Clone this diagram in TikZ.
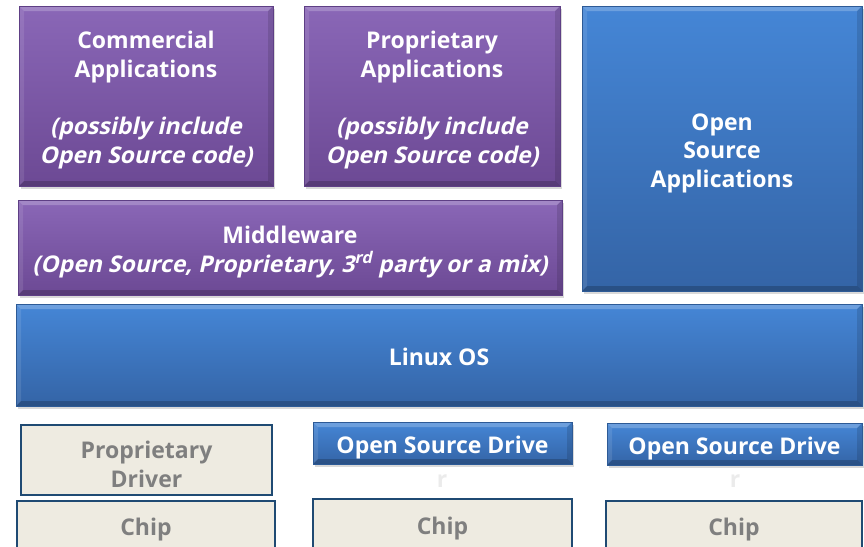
\documentclass[tikz,border=0pt]{standalone}
\usepackage{fontspec}
\setmainfont{Open Sans}
\newfontfamily\slantfont[FakeSlant=0.22]{Open Sans}
\usetikzlibrary{shadows}

\definecolor{purpletop}{HTML}{8A67B7}
\definecolor{purplebot}{HTML}{6C4994}
\definecolor{purpleedge}{HTML}{5E3F85}
\definecolor{bluetop}{HTML}{4586D6}
\definecolor{bluebot}{HTML}{3464A6}
\definecolor{blueedge}{HTML}{2D5A96}
\definecolor{chipfill}{HTML}{EEEBE1}
\definecolor{chipedge}{HTML}{1F4A73}
\definecolor{chiptext}{HTML}{7F7F7F}

% struts: one line boxes, and the first line of a block
\newcommand{\tallstrut}{\rule[-7pt]{0pt}{35pt}}
\newcommand{\firststrut}{\rule{0pt}{26pt}}
\newcommand{\slanted}[1]{{\slantfont\bfseries #1}}

\begin{document}
\begin{tikzpicture}[x=1pt, y=-1pt,
  every node/.style={font=\bfseries\fontsize{23}{28.7}\selectfont, align=center, inner sep=0pt},
  bevel/.style={path picture={
    \fill[white, opacity=.22] (path picture bounding box.north west) -- (path picture bounding box.north east)
      -- ([xshift=-5pt, yshift=-5pt]path picture bounding box.north east)
      -- ([xshift=5pt, yshift=-5pt]path picture bounding box.north west) -- cycle;
    \fill[white, opacity=.10] (path picture bounding box.north west) -- ([xshift=5pt, yshift=-5pt]path picture bounding box.north west)
      -- ([xshift=5pt, yshift=5pt]path picture bounding box.south west) -- (path picture bounding box.south west) -- cycle;
    \fill[black, opacity=.12] (path picture bounding box.north east) -- ([xshift=-5pt, yshift=-5pt]path picture bounding box.north east)
      -- ([xshift=-5pt, yshift=5pt]path picture bounding box.south east) -- (path picture bounding box.south east) -- cycle;
    \fill[black, opacity=.20] (path picture bounding box.south west) -- (path picture bounding box.south east)
      -- ([xshift=-5pt, yshift=5pt]path picture bounding box.south east)
      -- ([xshift=5pt, yshift=5pt]path picture bounding box.south west) -- cycle;}},
  purplebox/.style={rectangle, draw=purpleedge, line width=.8pt, text=white,
    top color=purpletop, bottom color=purplebot, bevel,
    drop shadow={shadow xshift=1.5pt, shadow yshift=-2.5pt, opacity=.3}},
  bluebox/.style={rectangle, draw=blueedge, line width=.8pt, text=white,
    top color=bluetop, bottom color=bluebot, bevel,
    drop shadow={shadow xshift=1.5pt, shadow yshift=-2.5pt, opacity=.3}},
  chipbox/.style={rectangle, draw=chipedge, line width=1.6pt, fill=chipfill, text=chiptext}]
  \useasboundingbox (0,0) rectangle (864,546);
  % applications
  \node (commercial) [purplebox, minimum width=254, minimum height=180] at (146, 96)
    {\firststrut Commercial\\Applications\\[28.7pt]\slanted{(possibly include}\\\slanted{Open Source code)}};
  \node (proprietary) [purplebox, minimum width=256, minimum height=180] at (432, 96)
    {\firststrut Proprietary\\Applications\\[28.7pt]\slanted{(possibly include}\\\slanted{Open Source code)}};
  \node (osapps) [bluebox, minimum width=280, minimum height=285] at (722, 148.5)
    {\firststrut Open\\Source\\Applications};
  \node (middleware) [purplebox, minimum width=544, minimum height=95] at (290, 247.5)
    {\firststrut Middleware\\\slanted{(Open Source, Proprietary, 3\textsuperscript{rd} party or a mix)}};
  % os
  \node (linux) [bluebox, minimum width=846, minimum height=102] at (439, 355) {\tallstrut Linux OS};
  % drivers
  \node (propdriver) [chipbox, minimum width=251, minimum height=70] at (146.5, 460)
    {\firststrut Proprietary\\Driver};
  \node (osdrive1) [bluebox, minimum width=259, minimum height=42] at (442.5, 443) {\tallstrut Open Source Drive};
  \node (osdrive2) [bluebox, minimum width=255, minimum height=42] at (734.5, 444) {\tallstrut Open Source Drive};
  \node (r1) [text=black!8] at (442, 477) {\tallstrut r};
  \node (r2) [text=black!8] at (735, 477) {\tallstrut r};
  % chips
  \node (chip1) [chipbox, minimum width=258, minimum height=48] at (146, 525) {\tallstrut Chip};
  \node (chip2) [chipbox, minimum width=259, minimum height=50] at (442.5, 524) {\tallstrut Chip};
  \node (chip3) [chipbox, minimum width=256, minimum height=48] at (734, 525) {\tallstrut Chip};
\end{tikzpicture}
\end{document}
